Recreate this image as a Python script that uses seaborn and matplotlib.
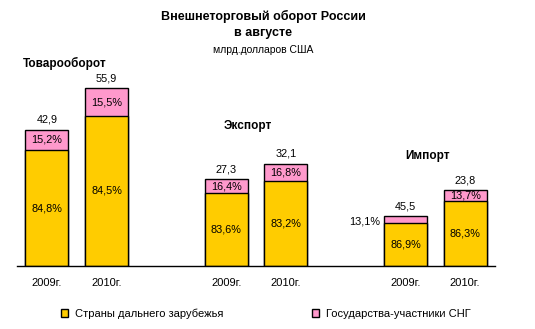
import matplotlib
matplotlib.use("Agg")
import matplotlib.pyplot as plt
import seaborn as sns
import pandas as pd
from matplotlib.patches import Patch

# ---- data ----
groups = ["Товарооборот", "Экспорт", "Импорт"]
years = ["2009г.", "2010г."]
totals = [42.9, 55.9, 27.3, 32.1, 15.6, 23.8]
total_labels = ["42,9", "55,9", "27,3", "32,1", "45,5", "23,8"]
far_pct = [84.8, 84.5, 83.6, 83.2, 86.9, 86.3]
cis_pct = [15.2, 15.5, 16.4, 16.8, 13.1, 13.7]
series = ["Страны дальнего зарубежья", "Государства-участники СНГ"]
title = "Внешнеторговый оборот России"
subtitle = "в августе"
units = "млрд.долларов США"

# ---- style ----
sns.set_theme(style="white")
plt.rcParams['font.family'] = ['Liberation Sans', 'DejaVu Sans']
plt.rcParams['text.color'] = 'black'
plt.rcParams['xtick.color'] = 'black'
plt.rcParams['xtick.labelcolor'] = 'black'
YELLOW = "#FFCC00"
PINK = "#FF99CC"

W, H = 535, 329
pos = [g * 3 + y for g in range(len(groups)) for y in range(len(years))]
far_vals = [t * p / 100 for t, p in zip(totals, far_pct)]
df = pd.DataFrame({"pos": pos, "total": totals, "far": far_vals})

fig = plt.figure(figsize=(W / 100, H / 100), dpi=100)
ax = fig.add_axes([17 / W, 63 / H, 478 / W, 206 / H])

bw = 0.72
sns.barplot(data=df, x="pos", y="total", native_scale=True, width=bw,
            color=PINK, saturation=1, edgecolor="black", linewidth=1,
            errorbar=None, ax=ax)
sns.barplot(data=df, x="pos", y="far", native_scale=True, width=bw,
            color=YELLOW, saturation=1, edgecolor="black", linewidth=1,
            errorbar=None, ax=ax)

ax.set_xlim(-0.5, 7.5)
ax.set_ylim(0, 206 / 3.18)
ax.set_xlabel("")
ax.set_ylabel("")
ax.set_yticks([])
ax.set_xticks(pos)
ax.set_xticklabels([years[i % 2] for i in range(len(pos))], fontsize=8, color="black")
ax.tick_params(axis="x", length=0, pad=9)
for s in ["top", "left", "right"]:
    ax.spines[s].set_visible(False)
ax.spines["bottom"].set_color("black")
ax.spines["bottom"].set_linewidth(1)
ax.patch.set_alpha(0)

fs = 7.8
for p, t, f, fp, cp, lab in zip(pos, totals, far_vals, far_pct, cis_pct, total_labels):
    ax.text(p, t + 3.2, lab, ha="center", va="center", fontsize=fs)
    ax.text(p, f / 2, f"{fp:.1f}%".replace(".", ","), ha="center", va="center", fontsize=fs)
    cis_h = t - f
    ctxt = f"{cp:.1f}%".replace(".", ",")
    if cis_h < 3:
        ax.text(p - bw / 2 - 0.06, f + cis_h / 2 - 0.6, ctxt, ha="right", va="center", fontsize=fs)
    else:
        ax.text(p, f + cis_h / 2, ctxt, ha="center", va="center", fontsize=fs)

# titles
fig.text(263 / W, 1 - 16 / H, title, ha="center", va="center", fontsize=9, fontweight="bold")
fig.text(263 / W, 1 - 33 / H, subtitle, ha="center", va="center", fontsize=9, fontweight="bold")
fig.text(263 / W, 1 - 50 / H, units, ha="center", va="center", fontsize=7.5)

# group labels
fig.text(23 / W, 1 - 63.5 / H, groups[0], ha="left", va="center", fontsize=8.5, fontweight="bold")
fig.text(248 / W, 1 - 126 / H, groups[1], ha="center", va="center", fontsize=8.5, fontweight="bold")
fig.text(428 / W, 1 - 156 / H, groups[2], ha="center", va="center", fontsize=8.5, fontweight="bold")

handles = [Patch(facecolor=YELLOW, edgecolor="black", linewidth=1),
           Patch(facecolor=PINK, edgecolor="black", linewidth=1)]
fig.legend(handles, series, loc="center", bbox_to_anchor=(266 / W, 1 - 313.5 / H),
           ncol=2, frameon=False, fontsize=8, handlelength=0.65, handleheight=0.65,
           handletextpad=0.6, columnspacing=8.0, borderpad=0)

fig.savefig("out.png", dpi=100, facecolor="white")
